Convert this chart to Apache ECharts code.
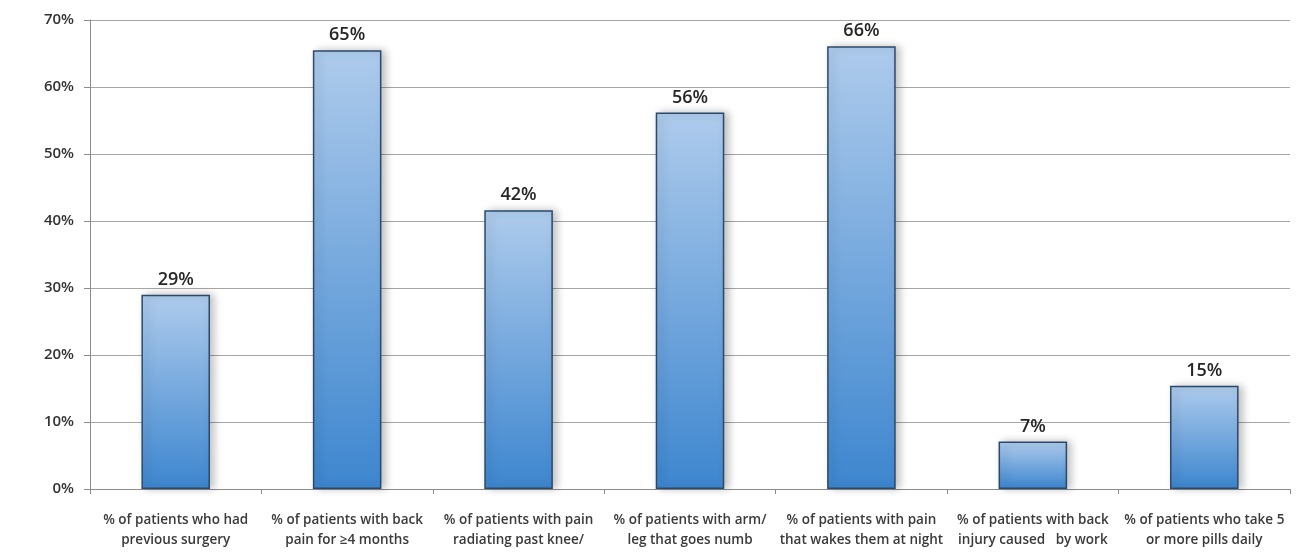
<!DOCTYPE html>
<html>
<head>
<meta charset="utf-8">
<script src="https://cdn.jsdelivr.net/npm/echarts@6/dist/echarts.min.js"></script>
<style>
  html, body { margin: 0; padding: 0; background: #fff; }
  #chart { width: 1310px; height: 558px; }
</style>
</head>
<body>
<div id="chart"></div>
<script>
// categories along the x axis
const categories = [
  '% of patients who had\nprevious surgery',
  '% of patients with back\npain for \u22654 months',
  '% of patients with pain\nradiating past knee/',
  '% of patients with arm/\nleg that goes numb',
  '% of patients with pain\nthat wakes them at night',
  '% of patients with back\ninjury caused   by work',
  '% of patients who take 5\nor more pills daily'
];
// bar heights (percent)
const values = [29, 65.5, 41.6, 56.2, 66.1, 7.1, 15.4];
// labels printed above the bars
const barLabels = ['29%', '65%', '42%', '56%', '66%', '7%', '15%'];
// y axis ticks
const yMin = 0, yMax = 70, yStep = 10;

const chart = echarts.init(document.getElementById('chart'));
chart.setOption({
  animation: false,
  grid: { left: 90, right: 20, top: 20, bottom: 69 },
  xAxis: {
    type: 'category',
    data: categories,
    axisLine: { lineStyle: { color: '#8c8c8c', width: 1 } },
    axisTick: { show: true, alignWithLabel: false, length: 5, lineStyle: { color: '#8c8c8c' } },
    axisLabel: {
      interval: 0,
      margin: 21,
      fontFamily: 'Open Sans',
      fontWeight: 600,
      fontSize: 13.5,
      lineHeight: 20,
      color: '#3a3a3a'
    }
  },
  yAxis: {
    type: 'value',
    min: yMin,
    max: yMax,
    interval: yStep,
    axisLine: { show: true, lineStyle: { color: '#8c8c8c' } },
    axisTick: { show: true, length: 6, lineStyle: { color: '#8c8c8c' } },
    splitLine: { lineStyle: { color: '#a6a6a6', width: 1 } },
    axisLabel: {
      formatter: '{value}%',
      margin: 16,
      fontFamily: 'Open Sans',
      fontWeight: 600,
      fontSize: 15,
      color: '#333'
    }
  },
  series: [{
    type: 'bar',
    data: values,
    barWidth: '40%',
    itemStyle: {
      color: new echarts.graphic.LinearGradient(0, 0, 0, 1, [
        { offset: 0, color: '#aecbec' },
        { offset: 1, color: '#3d86cf' }
      ]),
      borderColor: '#2b4a6b',
      borderWidth: 1.5,
      shadowColor: 'rgba(0,0,0,0.25)',
      shadowBlur: 8,
      shadowOffsetX: 4,
      shadowOffsetY: 0
    },
    label: {
      show: true,
      position: 'top',
      distance: 6,
      formatter: p => barLabels[p.dataIndex],
      fontFamily: 'Open Sans',
      fontWeight: 600,
      fontSize: 18,
      color: '#262626'
    }
  }]
});
</script>
</body>
</html>
